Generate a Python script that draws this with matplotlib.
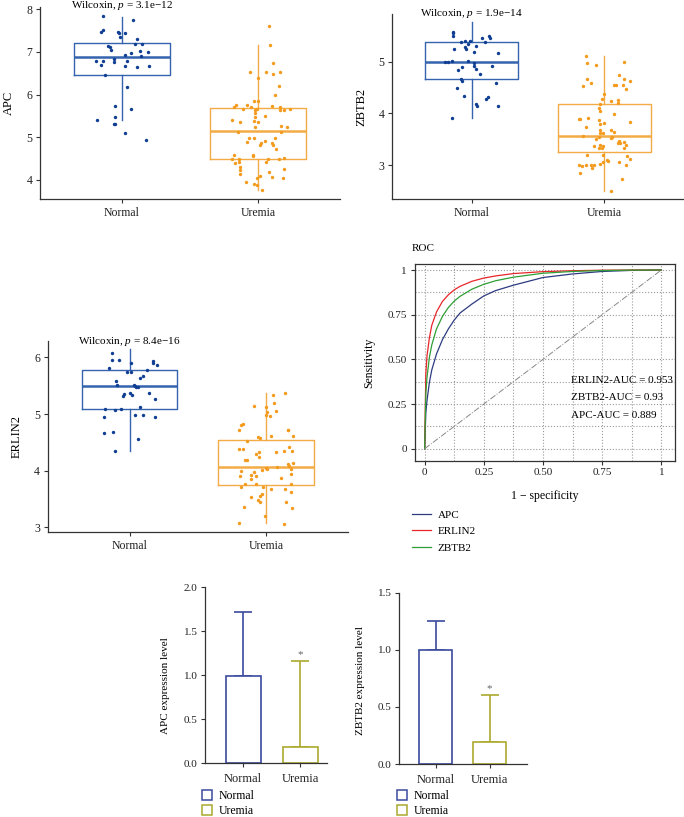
import matplotlib as mpl
mpl.use('Agg')
import matplotlib.pyplot as plt
from matplotlib.lines import Line2D

plt.rcParams['font.family'] = ['Liberation Serif', 'DejaVu Serif']
plt.rcParams['mathtext.fontset'] = 'custom'
plt.rcParams['mathtext.rm'] = 'Liberation Serif'
plt.rcParams['mathtext.it'] = 'Liberation Serif:italic'

W, H = 684, 817

groups = ["Normal", "Uremia"]

# ---- boxplot data ----
# box stats: whisker low, Q1, median, Q3, whisker high
apc_box = [(5.41, 6.46, 6.87, 7.20, 7.83), (3.75, 4.49, 5.15, 5.69, 7.16)]
zbtb2_box = [(3.92, 4.66, 5.00, 5.38, 5.76), (2.50, 3.26, 3.56, 4.19, 5.10)]
erlin2_box = [(4.35, 5.09, 5.49, 5.78, 6.14), (3.07, 3.74, 4.06, 4.54, 5.38)]

apc_n_y = [7.84, 7.75, 7.52, 7.46, 7.46, 7.44, 7.45, 7.36, 7.30, 7.18, 7.18, 7.13, 7.11,
           7.05, 7.02, 7.01, 6.97, 6.93, 6.91, 6.83, 6.79, 6.79, 6.79, 6.77, 6.70, 6.67,
           6.64, 6.66, 6.45, 6.17, 5.73, 5.67, 5.41, 5.47, 5.30, 5.32, 5.11, 4.93]
apc_n_dx = [-0.14, 0.08, -0.14, -0.15, -0.03, -0.02, 0.02, -0.01, 0.11, 0.10, 0.15, -0.10, -0.09,
            -0.08, 0.13, 0.19, 0.07, 0.02, 0.14, -0.06, -0.19, -0.14, 0.04, -0.06, -0.15, 0.02,
            0.11, 0.20, -0.12, 0.04, -0.05, 0.07, -0.18, -0.05, -0.06, -0.05, 0.02, 0.18]
apc_u_y = [7.60, 7.16, 6.75, 6.54, 6.54, 6.49, 6.52, 6.40, 6.21, 5.99, 5.86, 5.86, 5.70, 5.75,
           5.75, 5.66, 5.70, 5.64, 5.66, 5.74, 5.70, 5.67, 5.64, 5.64, 5.56, 5.48, 5.50, 5.41,
           5.35, 5.37, 5.36, 5.25, 5.27, 5.23, 5.13, 5.13, 4.99, 4.99, 4.98, 4.88, 4.91, 4.87,
           4.82, 4.86, 4.82, 4.73, 4.58, 4.55, 4.59, 4.52, 4.48, 4.50, 4.48, 4.48, 4.40, 4.41,
           4.41, 4.31, 4.23, 4.14, 4.26, 4.19, 4.07, 4.05, 4.10, 4.05, 3.94, 3.91, 3.88, 3.75]
apc_u_dx = [0.08, 0.09, 0.11, -0.06, 0.06, 0.11, 0.16, 0.00, 0.15, 0.12, -0.03, 0.00, -0.18, -0.16,
            -0.08, -0.11, -0.05, -0.02, -0.01, 0.10, 0.16, 0.23, 0.16, 0.19, -0.02, -0.02, 0.05, -0.19,
            -0.13, -0.03, 0.00, -0.02, 0.17, 0.21, -0.15, 0.17, 0.12, -0.07, -0.03, -0.08, 0.05, 0.02,
            0.01, 0.10, 0.11, 0.13, -0.04, -0.04, -0.18, 0.19, 0.15, 0.07, -0.19, -0.14, -0.17, -0.14,
            0.06, -0.13, -0.13, -0.13, 0.19, 0.08, 0.10, 0.18, 0.01, -0.01, -0.09, -0.03, -0.01, 0.03]

zbtb2_n_y = [5.58, 5.55, 5.50, 5.50, 5.45, 5.45, 5.38, 5.38, 5.39, 5.35, 5.39, 5.30, 5.28, 5.24,
             5.24, 5.19, 5.17, 5.01, 4.99, 4.99, 5.01, 4.98, 4.90, 4.92, 4.86, 4.92, 4.83, 4.77,
             4.67, 4.63, 4.59, 4.49, 4.32, 4.28, 4.34, 4.19, 4.14, 4.15, 3.92]
zbtb2_n_dx = [-0.14, -0.14, -0.14, 0.13, 0.14, 0.08, 0.10, -0.08, -0.05, -0.03, -0.01, 0.03, -0.05, -0.04,
              -0.13, 0.02, 0.20, -0.15, -0.20, -0.18, -0.03, 0.02, -0.07, 0.02, 0.03, 0.15, -0.10, 0.06,
              -0.08, -0.07, 0.18, -0.11, 0.12, 0.11, -0.06, 0.03, 0.04, 0.20, -0.15]
zbtb2_u_y = [5.11, 4.97, 4.94, 4.99, 4.74, 4.67, 4.67, 4.58, 4.62, 4.52, 4.54, 4.54, 4.55, 4.48,
             4.37, 4.27, 4.23, 4.26, 4.19, 4.21, 4.10, 4.04, 3.99, 3.90, 3.90, 3.92, 3.88, 3.83,
             3.81, 3.79, 3.74, 3.68, 3.68, 3.63, 3.63, 3.64, 3.57, 3.54, 3.52, 3.55, 3.51, 3.47,
             3.43, 3.42, 3.45, 3.39, 3.37, 3.38, 3.37, 3.33, 3.33, 3.33, 3.20, 3.19, 3.17, 3.11,
             3.10, 3.08, 3.06, 3.06, 3.00, 2.99, 3.01, 3.00, 3.01, 3.03, 3.01, 2.94, 2.84, 2.74, 2.50]
zbtb2_u_dx = [-0.14, -0.13, -0.06, 0.15, 0.11, -0.13, 0.15, -0.10, 0.19, -0.16, 0.07, 0.09, 0.14, 0.16,
              0.00, -0.02, 0.05, 0.10, -0.03, 0.10, -0.04, -0.03, 0.07, -0.19, -0.18, -0.12, -0.04, 0.19,
              0.00, -0.03, -0.14, -0.03, 0.05, -0.03, -0.01, 0.07, -0.16, -0.04, 0.05, 0.06, -0.06, 0.11,
              0.12, 0.10, 0.15, 0.16, -0.08, -0.03, -0.01, -0.04, -0.02, 0.15, -0.13, -0.01, 0.17, 0.19,
              0.02, 0.03, -0.01, 0.11, -0.19, -0.17, -0.14, -0.10, -0.08, -0.03, 0.16, -0.09, -0.18, 0.13, 0.05]

erlin2_n_y = [6.07, 5.95, 5.95, 5.91, 5.93, 5.91, 5.86, 5.82, 5.74, 5.74, 5.77, 5.68, 5.64,
              5.59, 5.52, 5.52, 5.50, 5.48, 5.47, 5.38, 5.36, 5.32, 5.38, 5.34, 5.27, 5.13,
              5.09, 5.07, 5.08, 4.98, 4.99, 4.95, 4.95, 4.66, 4.69, 4.55, 4.35]
erlin2_n_dx = [-0.13, -0.13, -0.08, 0.01, 0.17, 0.17, 0.20, -0.15, -0.02, 0.01, 0.13, 0.10, 0.08,
               -0.10, -0.09, 0.03, 0.04, 0.05, 0.06, 0.14, -0.04, -0.05, 0.00, 0.02, 0.19, 0.08,
               -0.18, -0.11, -0.06, 0.04, 0.10, -0.19, 0.19, -0.19, -0.12, 0.06, -0.11]
erlin2_u_y = [5.38, 5.34, 5.20, 5.15, 5.12, 5.06, 5.04, 4.98, 4.96, 4.82, 4.81, 4.71, 4.71, 4.71,
              4.61, 4.60, 4.57, 4.61, 4.53, 4.42, 4.39, 4.39, 4.34, 4.35, 4.32, 4.32, 4.29, 4.24,
              4.19, 4.18, 4.14, 4.11, 4.09, 4.06, 4.04, 4.02, 4.01, 4.02, 3.99, 3.97, 3.92, 3.91,
              3.91, 3.94, 3.87, 3.85, 3.76, 3.76, 3.76, 3.71, 3.71, 3.68, 3.68, 3.62, 3.59, 3.56,
              3.53, 3.48, 3.45, 3.44, 3.34, 3.35, 3.19, 3.08, 3.06]
erlin2_u_dx = [0.14, 0.05, 0.06, -0.09, 0.00, 0.07, 0.01, 0.00, 0.03, -0.17, -0.18, -0.20, 0.16, 0.16,
               0.20, -0.06, -0.04, 0.04, -0.14, 0.17, -0.20, -0.17, 0.13, 0.19, 0.07, -0.05, -0.07, -0.05,
               -0.15, -0.14, 0.20, 0.16, 0.17, 0.08, 0.00, 0.01, -0.03, 0.18, -0.18, -0.09, -0.11, -0.19,
               -0.07, 0.18, 0.11, -0.11, -0.15, -0.07, 0.18, -0.18, -0.02, 0.04, 0.14, 0.18, -0.03, -0.04,
               -0.11, -0.06, -0.04, 0.15, 0.19, -0.16, -0.01, -0.20, 0.13]

# ---- ROC curves ----
roc_fpr = [0, 0.005, 0.01, 0.02, 0.03, 0.05, 0.075, 0.1, 0.125, 0.15, 0.2, 0.25, 0.3,
           0.375, 0.5, 0.625, 0.75, 0.875, 1]
apc_tpr = [0, 0.20, 0.27, 0.37, 0.44, 0.53, 0.61, 0.67, 0.72, 0.76, 0.81, 0.855, 0.885,
           0.915, 0.958, 0.978, 0.992, 0.998, 1]
zbtb2_tpr = [0, 0.31, 0.40, 0.51, 0.58, 0.67, 0.74, 0.79, 0.826, 0.853, 0.893, 0.92, 0.94,
             0.96, 0.982, 0.992, 0.997, 0.9995, 1]
erlin2_tpr = [0, 0.42, 0.52, 0.62, 0.69, 0.765, 0.824, 0.861, 0.889, 0.909, 0.937, 0.955, 0.967,
              0.98, 0.991, 0.996, 0.999, 1.0, 1]
auc_labels = ["ERLIN2-AUC = 0.953", "ZBTB2-AUC = 0.93", "APC-AUC = 0.889"]

# ---- qPCR bars ----
apc_mean = [0.99, 0.19]
apc_sd = [0.73, 0.97]
zbtb2_mean = [1.0, 0.19]
zbtb2_sd = [0.25, 0.41]

c_norm_box, c_norm_pt = '#3563AE', '#0F3E92'
c_ure_box, c_ure_pt = '#F3AC45', '#F39B1F'
c_bar = ['#3B4A9E', '#ABA92C']
axis_col = '#333333'

fig = plt.figure(figsize=(W / 100, H / 100), dpi=100)


def place(l, t, r, b):
    return fig.add_axes([l / W, 1 - b / H, (r - l) / W, (b - t) / H])


def style(ax, size=8.5):
    for s in ['top', 'right']:
        ax.spines[s].set_visible(False)
    for s in ['left', 'bottom']:
        ax.spines[s].set_color(axis_col)
        ax.spines[s].set_linewidth(0.9)
    ax.tick_params(direction='out', length=3, width=0.8, color=axis_col,
                   labelsize=size, labelcolor='#222222', pad=2.5)


def box_panel(ax, box, n_y, n_dx, u_y, u_dx, ylim, yticks, ylabel, ptext, ptext_y):
    for i, (b, cb) in enumerate(zip(box, [c_norm_box, c_ure_box])):
        st = dict(whislo=b[0], q1=b[1], med=b[2], q3=b[3], whishi=b[4], fliers=[])
        ax.bxp([st], positions=[i + 1], widths=0.7, showcaps=False, showfliers=False,
               boxprops=dict(color=cb, linewidth=1.0),
               whiskerprops=dict(color=cb, linewidth=1.0),
               medianprops=dict(color=cb, linewidth=1.8))
    ax.scatter([1 + d for d in n_dx], n_y, s=6, color=c_norm_pt, zorder=3, linewidths=0)
    ax.scatter([2 + d for d in u_dx], u_y, s=6, color=c_ure_pt, zorder=3, linewidths=0)
    ax.set_xlim(0.4, 2.6)
    ax.set_ylim(*ylim)
    ax.set_xticks([1, 2])
    ax.set_xticklabels(groups)
    ax.set_yticks(yticks)
    ax.set_ylabel(ylabel, fontsize=9)
    ax.yaxis.set_label_coords(-0.085, 0.5)
    ax.text(1, ptext_y, ptext, ha='center', va='center', fontsize=8, clip_on=False)
    style(ax)


axA = place(40, 7.2, 340, 199)
box_panel(axA, apc_box, apc_n_y, apc_n_dx, apc_u_y, apc_u_dx, (3.55, 8.05),
          [4, 5, 6, 7, 8], 'APC', 'Wilcoxin, $p$ = 3.1e\u221212', 8.10)

axB = place(392, 14, 684, 199.3)
box_panel(axB, zbtb2_box, zbtb2_n_y, zbtb2_n_dx, zbtb2_u_y, zbtb2_u_dx, (2.34, 5.92),
          [3, 4, 5], 'ZBTB2', 'Wilcoxin, $p$ = 1.9e\u221214', 5.93)

axC = place(47.7, 341, 347.8, 532.3)
box_panel(axC, erlin2_box, erlin2_n_y, erlin2_n_dx, erlin2_u_y, erlin2_u_dx, (2.91, 6.29),
          [3, 4, 5, 6], 'ERLIN2', 'Wilcoxin, $p$ = 8.4e\u221216', 6.29)

# ---- ROC panel ----
axD = place(414.7, 264.3, 675.3, 460.7)
axD.plot(roc_fpr, apc_tpr, color='#2D3B80', lw=0.9, label='APC')
axD.plot(roc_fpr, erlin2_tpr, color='#E8262A', lw=0.9, label='ERLIN2')
axD.plot(roc_fpr, zbtb2_tpr, color='#2E9E35', lw=0.9, label='ZBTB2')
axD.plot([0, 1], [0, 1], color='#888888', lw=0.7, linestyle='-.')
axD.set_xlim(-0.042, 1.059)
axD.set_ylim(-0.067, 1.032)
ticks = [0, 0.25, 0.5, 0.75, 1]
tick_lbl = ['0', '0.25', '0.50', '0.75', '1']
axD.set_xticks(ticks)
axD.set_xticklabels(tick_lbl)
axD.set_yticks(ticks)
axD.set_yticklabels(tick_lbl)
axD.set_xticks([0.125, 0.375, 0.625, 0.875], minor=True)
axD.set_yticks([0.125, 0.375, 0.625, 0.875], minor=True)
axD.grid(which='both', linestyle=':', color='#999999', lw=0.8)
axD.tick_params(which='minor', length=0)
axD.tick_params(which='major', direction='out', length=3, width=0.8, color=axis_col,
                labelsize=8, labelcolor='#222222', pad=2.5)
for s in axD.spines.values():
    s.set_color(axis_col)
    s.set_linewidth(0.9)
axD.set_xlabel('1 \u2212 specificity', fontsize=8.5)
axD.set_ylabel('Sensitivity', fontsize=8.5)
axD.xaxis.set_label_coords(0.5, -0.15)
axD.yaxis.set_label_coords(-0.15, 0.5)
axD.text(-0.01, 1.055, 'ROC', transform=axD.transAxes, fontsize=8, ha='left', va='bottom')
for lbl, yy in zip(auc_labels, [0.384, 0.285, 0.188]):
    axD.text(0.617, yy, lbl, fontsize=8, ha='left', va='center')
axD.legend(loc='upper left', bbox_to_anchor=(412 / W, 1 - 510 / H), bbox_transform=fig.transFigure,
           frameon=False, fontsize=8, handlelength=1.7, handletextpad=0.6, labelspacing=0.6,
           borderpad=0, borderaxespad=0)


def bar_panel(ax, means, sds, ymax, yticks, ylabel, xlim, lab_x, lab_y, leg_x):
    ax.bar([0, 1], means, width=0.62, color='white', edgecolor=c_bar, linewidth=1.2, zorder=2)
    for i in range(2):
        ax.errorbar([i], [means[i]], yerr=[[0], [sds[i]]], color=c_bar[i], capsize=6.5,
                    elinewidth=1.2, capthick=1.2, fmt='none', zorder=1)
    ax.text(1, means[1] + sds[1] + ymax * 0.012, '*', ha='center', va='bottom',
            fontsize=8, color='#666666')
    ax.set_xlim(*xlim)
    ax.set_ylim(0, ymax)
    ax.set_yticks(yticks)
    ax.set_yticklabels(['%.1f' % t for t in yticks])
    ax.set_xticks([0, 1])
    ax.set_xticklabels(groups)
    ax.set_ylabel(ylabel, fontsize=8)
    ax.yaxis.set_label_coords(lab_x, lab_y)
    style(ax, 8)
    ax.tick_params(axis='x', pad=4, labelsize=9)
    handles = [Line2D([], [], marker='s', linestyle='none', markerfacecolor='white',
                      markeredgecolor=c, markersize=6.5, markeredgewidth=1.1) for c in c_bar]
    ax.legend(handles, groups, loc='upper left', bbox_to_anchor=(leg_x / W, 1 - 790 / H),
              bbox_transform=fig.transFigure, frameon=False, fontsize=8.5, handlelength=0.8,
              handletextpad=0.6, labelspacing=0.25, borderpad=0, borderaxespad=0)


axE = place(205, 587.3, 326.7, 763.3)
bar_panel(axE, apc_mean, apc_sd, 2.0, [0, 0.5, 1.0, 1.5, 2.0], 'APC expression level',
          (-0.67, 1.465), -0.29, 0.44, 202)

axF = place(399.3, 592.7, 526.7, 764)
bar_panel(axF, zbtb2_mean, zbtb2_sd, 1.5, [0, 0.5, 1.0, 1.5], 'ZBTB2 expression level',
          (-0.674, 1.685), -0.27, 0.49, 397)

plt.savefig('out.png', dpi=100)
